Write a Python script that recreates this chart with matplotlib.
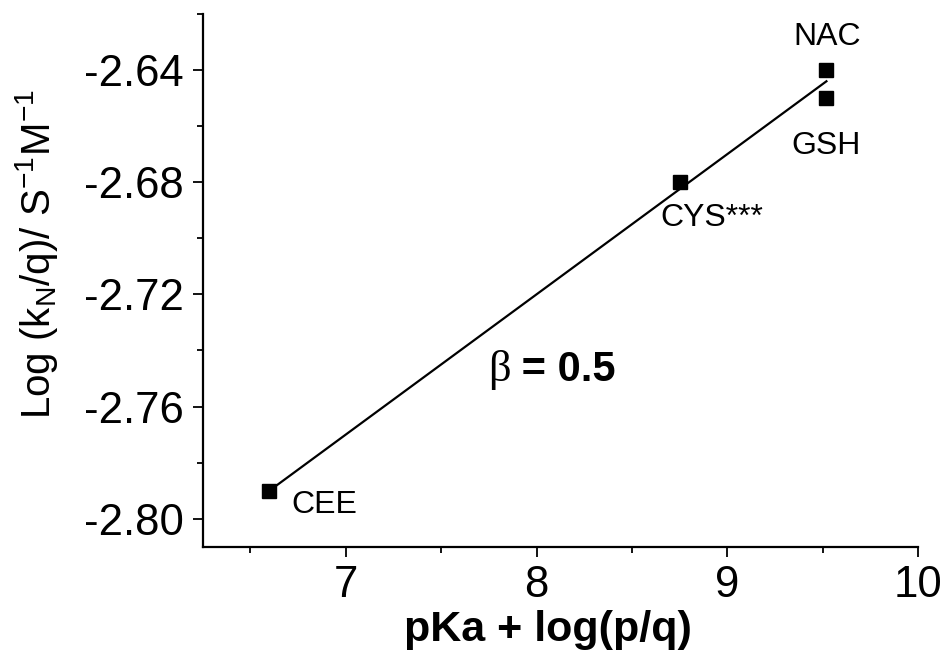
import matplotlib
matplotlib.use("Agg")
import matplotlib.pyplot as plt
from matplotlib.ticker import MultipleLocator

plt.rcParams['font.family'] = ['Liberation Sans', 'DejaVu Sans']
plt.rcParams['mathtext.fontset'] = 'custom'
plt.rcParams['mathtext.rm'] = 'Liberation Sans'
plt.rcParams['mathtext.it'] = 'Liberation Sans:italic'
plt.rcParams['mathtext.bf'] = 'Liberation Sans:bold'

# Data
names = ["CEE", "CYS***", "NAC", "GSH"]
x_vals = [6.60, 8.75, 9.52, 9.52]
y_vals = [-2.790, -2.680, -2.640, -2.650]
fit_x = [6.60, 9.52]
fit_y = [-2.790, -2.644]
x_ticks = [7, 8, 9, 10]
y_ticks = [-2.80, -2.76, -2.72, -2.68, -2.64]

fig = plt.figure(figsize=(9.5, 6.66), dpi=100)
ax = fig.add_axes([0.2134, 0.1791, 0.9663 - 0.2134, 0.979 - 0.1791])

ax.plot(fit_x, fit_y, color='black', lw=1.6, zorder=2)
ax.plot(x_vals, y_vals, linestyle='none', marker='s', ms=10.5, color='black', zorder=3)

# labels
label_pos = {
    "NAC": (9.525, -2.6311, 'center'),
    "GSH": (9.52, -2.6698, 'center'),
    "CYS***": (8.65, -2.6956, 'left'),
    "CEE": (6.713, -2.798, 'left'),
}
for n in names:
    lx, ly, ha = label_pos[n]
    ax.text(lx, ly, n, fontsize=23, ha=ha, va='baseline')

ax.text(7.747, -2.7509, 'β', fontsize=32, family=['Liberation Serif', 'DejaVu Serif'],
        ha='left', va='baseline')
ax.text(7.86, -2.7509, ' = 0.5', fontsize=30, fontweight='bold',
        ha='left', va='baseline')

ax.set_xlim(6.25, 10)
ax.set_ylim(-2.81, -2.62)
ax.set_xticks(x_ticks)
ax.set_xticklabels([str(t) for t in x_ticks])
ax.set_yticks(y_ticks)
ax.set_yticklabels([f"{t:.2f}" for t in y_ticks])
ax.xaxis.set_minor_locator(MultipleLocator(0.5))
ax.yaxis.set_minor_locator(MultipleLocator(0.02))

for s in ['top', 'right']:
    ax.spines[s].set_visible(False)
for s in ['left', 'bottom']:
    ax.spines[s].set_linewidth(1.6)

ax.tick_params(which='major', direction='out', length=7.5, width=1.3, labelsize=31.5, pad=6)
ax.tick_params(which='minor', direction='out', length=4, width=1.3)

ax.set_xlabel('pKa + log(p/q)', fontsize=31, fontweight='bold')
ax.xaxis.set_label_coords(0.483, -0.118)
ax.set_ylabel('Log (k$_\\mathregular{N}$/q)/ S$^\\mathregular{\u2010 1}$M$^\\mathregular{\u2010 1}$'.replace('\u2010 ', '-'),
              fontsize=29)
ax.yaxis.set_label_coords(-0.20, 0.55)

fig.savefig('out.png', dpi=100)
